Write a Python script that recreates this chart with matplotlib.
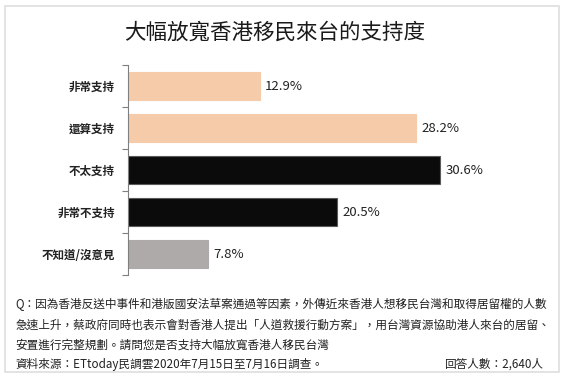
import matplotlib
matplotlib.use("Agg")
import matplotlib.pyplot as plt
from matplotlib.patches import Rectangle

plt.rcParams['font.family'] = ['Noto Sans CJK TC', 'DejaVu Sans']

categories = ["非常支持", "還算支持", "不太支持", "非常不支持", "不知道/沒意見"]
values = [12.9, 28.2, 30.6, 20.5, 7.8]
value_labels = ["12.9%", "28.2%", "30.6%", "20.5%", "7.8%"]
bar_colors = ["#F6CBAA", "#F6CBAA", "#0B0B0B", "#0B0B0B", "#AEAAA9"]
edge_colors = ["#F6CBAA", "#F6CBAA", "#5A5A5A", "#5A5A5A", "#AEAAA9"]

title = "大幅放寬香港移民來台的支持度"
note_lines = [
    "Q：因為香港反送中事件和港版國安法草案通過等因素，外傳近來香港人想移民台灣和取得居留權的人數",
    "急速上升，蔡政府同時也表示會對香港人提出「人道救援行動方案」，用台灣資源協助港人來台的居留、",
    "安置進行完整規劃。請問您是否支持大幅放寬香港人移民台灣",
]
source_text = "資料來源：ETtoday民調雲2020年7月15日至7月16日調查。"
count_text = "回答人數：2,640人"

W, H = 565, 380
fig = plt.figure(figsize=(W / 100, H / 100), dpi=100)
fig.patch.set_facecolor("white")

# outer light border
fig.add_artist(Rectangle((5 / W, 1 - 372 / H), (559 - 5) / W, (372 - 6) / H,
                         transform=fig.transFigure, fill=False,
                         edgecolor="#DEDEDE", linewidth=1.2))

ax_left, ax_right = 128, 528
ax_top, ax_bottom = 65, 275
ax = fig.add_axes([ax_left / W, 1 - ax_bottom / H, (ax_right - ax_left) / W, (ax_bottom - ax_top) / H])

ypos = list(range(len(categories)))
ax.barh(ypos, values, height=0.65, color=bar_colors, edgecolor=edge_colors, linewidth=0.8)
ax.set_xlim(0, (ax_right - ax_left) / 10.2)
ax.set_ylim(len(categories) - 0.5, -0.5)

for y, v, lab in zip(ypos, values, value_labels):
    ax.annotate(lab, (v, y), xytext=(4, 0), textcoords="offset points",
                va="center", ha="left", fontsize=9.5, color="#222222")

ax.set_yticks(ypos)
ax.set_yticklabels(categories, fontsize=8.3, fontweight="bold", color="#222222")
ax.tick_params(axis="y", which="major", length=0, pad=9.5)
ax.set_yticks([i - 0.5 for i in range(len(categories) + 1)], minor=True)
ax.tick_params(axis="y", which="minor", length=4, direction="out", color="#7F7F7F", width=0.8)
ax.set_xticks([])
for s in ["top", "right", "bottom"]:
    ax.spines[s].set_visible(False)
ax.spines["left"].set_color("#7F7F7F")
ax.spines["left"].set_linewidth(0.8)

fig.text(275 / W, 1 - 33 / H, title, ha="center", va="center", fontsize=15.5, color="#1A1A1A")

ys = [304, 325, 345]
for yy, line in zip(ys, note_lines):
    fig.text(15 / W, 1 - yy / H, line, ha="left", va="center", fontsize=8.4, color="#222222")
fig.text(15 / W, 1 - 364 / H, source_text, ha="left", va="center", fontsize=8.4, color="#222222")
fig.text(543 / W, 1 - 364 / H, count_text, ha="right", va="center", fontsize=8.4, color="#222222")

fig.savefig("out.png", dpi=100)
